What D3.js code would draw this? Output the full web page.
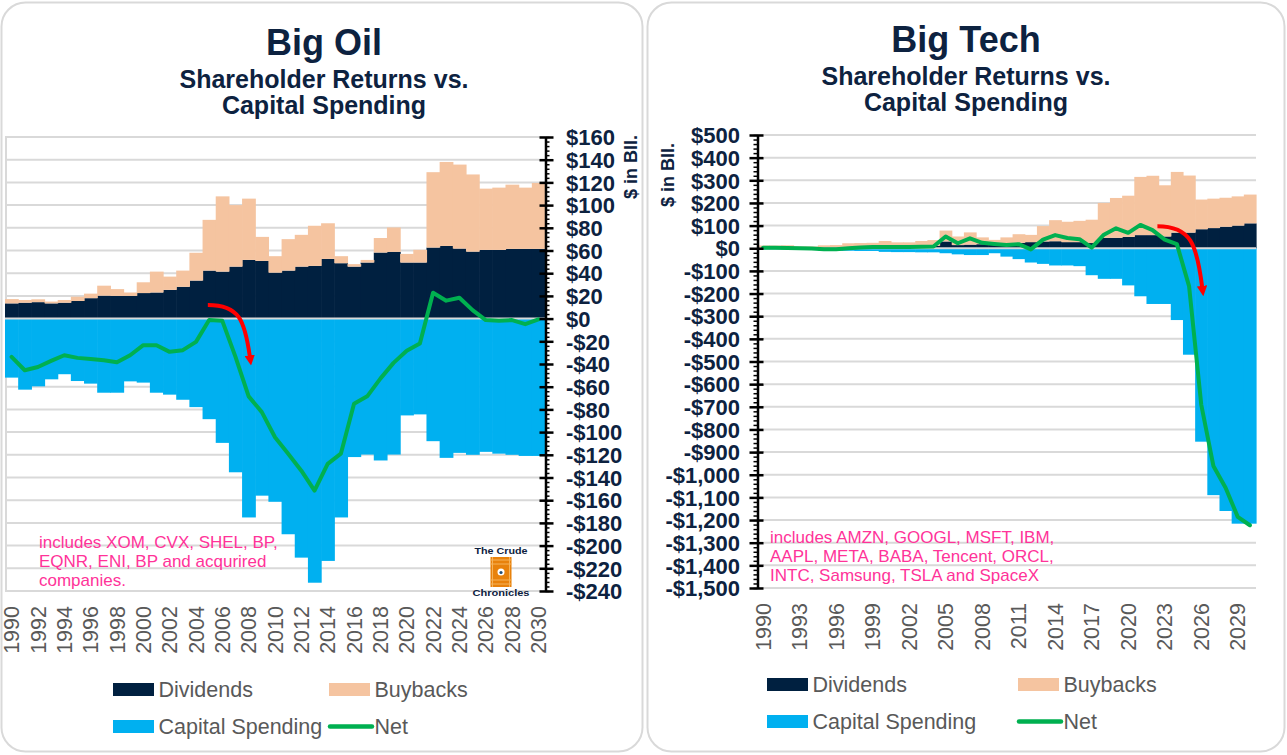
<!DOCTYPE html>
<html>
<head>
<meta charset="utf-8">
<script src="https://cdn.jsdelivr.net/npm/d3@7"></script>
<style>
body { margin: 0; background: #fff; }
text { font-family: "Liberation Sans", Arial, sans-serif; }
</style>
</head>
<body>
<script>
var years = d3.range(1990, 2031);

// Big Oil, $ bn
var oilDividends = [13.4,14,14.5,13.4,14,15.5,18,20.2,20,20,22.5,23,25.3,28,33.5,42.3,41.4,45.8,51.7,50.8,40.5,42.3,45.8,46.4,52.6,48.8,45.8,49.4,58.2,58.8,49.4,49.4,62.6,64,61.7,59,60.5,60.5,61.4,61.4,61.4];
var oilBuybacks = [3.8,2.4,2.5,1.6,2.4,3.8,4,8.8,6,3,9.5,18.4,11.7,14.3,24.5,44.7,66.3,54.2,54,21.2,14.5,27.7,28,35.4,31.4,6.2,2.2,2.3,12.8,21.5,7.6,11.2,66.4,74,74,68,54,54.9,56.6,54,58.1];
var oilCapex = [-52,-62.6,-59.7,-53.5,-49,-55,-57.3,-65.3,-65.3,-55.3,-56.4,-65.3,-67,-71.5,-78,-88.6,-109.5,-135.4,-175.2,-156,-161.4,-190,-210.6,-232.7,-213.5,-175.2,-122,-119.8,-125,-119.8,-85.3,-84.4,-108,-122.7,-118.3,-120,-117.4,-119,-120,-121,-121];
var oilNet = [-33.7,-45.5,-42.6,-37.3,-32.3,-34.6,-35.5,-36.7,-38.5,-32.3,-23.4,-23.4,-29.3,-27.8,-20.5,-1.3,-2,-33.7,-68.5,-82.4,-104.5,-119,-134,-151.6,-128,-119,-75,-68.5,-52.9,-39,-28.4,-22,22.8,15.8,18.4,7.5,-1.3,-2,-1.3,-4.9,-0.7];
var oilYTicks = [160,140,120,100,80,60,40,20,0,-20,-40,-60,-80,-100,-120,-140,-160,-180,-200,-220,-240];
var oilXLabels = [1990,1992,1994,1996,1998,2000,2002,2004,2006,2008,2010,2012,2014,2016,2018,2020,2022,2024,2026,2028,2030];

// Big Tech, $ bn
var techDividends = [3,3,4,4,4,5,5,6,6,7,8,8,9,10,11,30,14,16,18,18,22,24,27,30,31,27,27,23,46,46,50,58,58,52,69,69,84,89,95,100,110];
var techBuybacks = [9,9,9,4,4,8,9,16,17,17,24,18,17,22,25,48,38,54,30,19,26,38,32,68,93,90,94,103,154,176,182,257,262,226,268,252,131,130,128,129,127];
var techCapex = [-5,-5,-6,-6,-6,-10,-11,-11,-12,-12,-16,-17,-17,-18,-18,-22,-27,-30,-30,-22,-37,-48,-63,-69,-76,-76,-79,-119,-135,-135,-164,-212,-246,-246,-317,-470,-854,-1090,-1160,-1216,-1216];
var techNet = [2,2,1,0,-1,-4,-4,0,3,5,6,6,6,7,8,52,22,44,24,19,14,18,-5,38,58,45,40,3,60,88,68,103,80,38,18,-167,-690,-961,-1057,-1186,-1223];
var techYTicks = [500,400,300,200,100,0,-100,-200,-300,-400,-500,-600,-700,-800,-900,-1000,-1100,-1200,-1300,-1400,-1500];
var techXLabels = [1990,1993,1996,1999,2002,2005,2008,2011,2014,2017,2020,2023,2026,2029];

// red arrows: [start, tip] in (year, $bn)
var oilArrow = [[2005.4, 12], [2008.7, -42]];
var techArrow = [[2022.9, 97], [2026.7, -215]];

var oilNote = ["includes XOM, CVX, SHEL, BP,", "EQNR, ENI, BP and acqurired", "companies."];
var techNote = ["includes AMZN, GOOGL, MSFT, IBM,", "AAPL, META, BABA, Tencent, ORCL,", "INTC, Samsung, TSLA and SpaceX"];
var legendNames = ["Dividends", "Buybacks", "Capital Spending", "Net"];

var col = {div: "#002040", buy: "#f5c4a0", capex: "#00b0f0", net: "#00b050", arrow: "#ff0000",
  grid: "#d9d9d9", ink: "#0d2240", gray: "#595959", note: "#ff3399"};
var legendColors = [col.div, col.buy, col.capex, col.net];

var svg = d3.select("body").append("svg").attr("width", 1287).attr("height", 755);

var defs = svg.append("defs");
defs.append("marker").attr("id", "head").attr("viewBox", "0 0 10 10")
  .attr("refX", 1).attr("refY", 5).attr("markerWidth", 2.6).attr("markerHeight", 2.6)
  .attr("orient", "auto").attr("markerUnits", "strokeWidth")
  .append("path").attr("d", "M0,0 L10,5 L0,10 z").attr("fill", col.arrow);

// panels
svg.append("rect").attr("x", 1.5).attr("y", 2.5).attr("width", 641).attr("height", 749).attr("rx", 24)
  .attr("fill", "#fff").attr("stroke", col.grid).attr("stroke-width", 2);
svg.append("rect").attr("x", 647.5).attr("y", 2.5).attr("width", 637).attr("height", 749).attr("rx", 24)
  .attr("fill", "#fff").attr("stroke", col.grid).attr("stroke-width", 2);

function money(v) {
  return (v < 0 ? "-$" : "$") + d3.format(",")(Math.abs(v));
}

function drawChart(o) {
  var g = svg.append("g");
  var x = d3.scaleBand().domain(years).range(o.xr).padding(0);
  var xl = d3.scaleLinear().domain([1990, 2031]).range(o.xr);
  var y = d3.scaleLinear().domain(o.yd).range(o.yr);
  var bw = x.bandwidth();

  // titles
  g.append("text").attr("x", o.titleX).attr("y", o.titleY[0]).attr("text-anchor", "middle")
    .attr("font-size", 36).attr("font-weight", "bold").attr("fill", col.ink).text(o.title);
  g.append("text").attr("x", o.titleX).attr("y", o.titleY[1]).attr("text-anchor", "middle")
    .attr("font-size", 25).attr("font-weight", "bold").attr("fill", col.ink).text("Shareholder Returns vs.");
  g.append("text").attr("x", o.titleX).attr("y", o.titleY[2]).attr("text-anchor", "middle")
    .attr("font-size", 25).attr("font-weight", "bold").attr("fill", col.ink).text("Capital Spending");

  // gridlines
  g.selectAll(".grid").data(o.ticks).enter().append("line")
    .attr("x1", o.xr[0]).attr("x2", o.xr[1])
    .attr("y1", function(d) { return y(d); }).attr("y2", function(d) { return y(d); })
    .attr("stroke", col.grid).attr("stroke-width", 2);
  if (o.leftBorder) {
    g.append("line").attr("x1", o.xr[0] + 1).attr("x2", o.xr[0] + 1)
      .attr("y1", o.yr[1]).attr("y2", o.yr[0]).attr("stroke", col.grid).attr("stroke-width", 2);
  }

  // bars
  g.selectAll(".capex").data(o.capex).enter().append("rect")
    .attr("x", function(d, i) { return x(years[i]); }).attr("width", bw + 0.6)
    .attr("y", y(0)).attr("height", function(d) { return y(d) - y(0); })
    .attr("fill", col.capex);
  g.selectAll(".div").data(o.div).enter().append("rect")
    .attr("x", function(d, i) { return x(years[i]); }).attr("width", bw + 0.6)
    .attr("y", function(d) { return y(d); }).attr("height", function(d) { return y(0) - y(d); })
    .attr("fill", col.div);
  g.selectAll(".buy").data(o.buy).enter().append("rect")
    .attr("x", function(d, i) { return x(years[i]); }).attr("width", bw + 0.6)
    .attr("y", function(d, i) { return y(o.div[i] + d); })
    .attr("height", function(d, i) { return y(o.div[i]) - y(o.div[i] + d); })
    .attr("fill", col.buy);

  // zero line
  g.append("line").attr("x1", o.xr[0]).attr("x2", o.xr[1]).attr("y1", y(0)).attr("y2", y(0))
    .attr("stroke", col.grid).attr("stroke-width", 2);

  // net line
  var line = d3.line()
    .x(function(d, i) { return x(years[i]) + bw / 2; })
    .y(function(d) { return y(d); });
  g.append("path").datum(o.net).attr("d", line).attr("fill", "none")
    .attr("stroke", col.net).attr("stroke-width", 4).attr("stroke-linejoin", "round").attr("stroke-linecap", "round");

  // red arrow
  var p0 = [xl(o.arrow[0][0]), y(o.arrow[0][1])];
  var tip = [xl(o.arrow[1][0]), y(o.arrow[1][1])];
  var end = [tip[0] - 1.5, tip[1] - 10];
  var dx = end[0] - p0[0], dy = end[1] - p0[1];
  g.append("path")
    .attr("d", "M" + p0 + " C" + [p0[0] + 0.75 * dx, p0[1]] + " " + [end[0] - 0.12 * dx, p0[1] + 0.3 * dy] + " " + end)
    .attr("fill", "none").attr("stroke", col.arrow).attr("stroke-width", 4).attr("marker-end", "url(#head)");

  // y axis
  var minor = d3.range(o.yd[0], o.yd[1] + 0.001, o.minorStep);
  var mk = o.side === "right" ? d3.axisRight : d3.axisLeft;
  var ax = g.append("g").attr("transform", "translate(" + o.axisX + ",0)");
  ax.append("g").call(mk(y).tickValues(minor).tickSize(4).tickSizeOuter(0).tickFormat(""))
    .call(function(s) {
      s.select(".domain").remove();
      s.selectAll("line").attr("stroke", "#000").attr("stroke-width", 1.5);
    });
  ax.append("g").call(mk(y).tickValues(o.ticks).tickSize(8).tickSizeOuter(0).tickFormat(money))
    .call(function(s) {
      s.select(".domain").attr("stroke", "#000").attr("stroke-width", 2.5);
      s.selectAll(".tick line").attr("stroke", "#000").attr("stroke-width", 2.5)
        .attr("x1", o.side === "right" ? -6 : 6);
      s.selectAll(".tick text").attr("x", o.labelDX).attr("text-anchor", o.labelAnchor)
        .attr("font-family", "Liberation Sans, Arial, sans-serif")
        .attr("font-size", 22).attr("font-weight", "bold").attr("fill", col.ink).attr("dy", "0.35em");
    });

  // unit label
  g.append("text").attr("transform", "translate(" + o.unit[0] + "," + o.unit[1] + ") rotate(-90)")
    .attr("text-anchor", "middle").attr("dy", "0.35em")
    .attr("font-size", 18).attr("font-weight", "bold").attr("fill", col.ink).text("$ in Bll.");

  // x labels
  g.selectAll(".xlab").data(o.xLabels).enter().append("text")
    .attr("transform", function(d) { return "translate(" + (x(d) + bw / 2) + "," + o.xLabelY + ") rotate(-90)"; })
    .attr("text-anchor", "end").attr("dy", "0.36em")
    .attr("font-size", 21.5).attr("fill", col.gray).text(function(d) { return d; });

  // note
  g.selectAll(".note").data(o.note).enter().append("text")
    .attr("x", o.noteXY[0]).attr("y", function(d, i) { return o.noteXY[1] + i * 19; })
    .attr("font-size", 17).attr("fill", col.note).text(function(d) { return d; });

  // legend
  var lg = g.selectAll(".lg").data(legendNames).enter().append("g")
    .attr("transform", function(d, i) { return "translate(" + o.legCols[i % 2] + "," + o.legRows[Math.floor(i / 2)] + ")"; });
  lg.each(function(d, i) {
    var s = d3.select(this);
    if (i === 3) {
      s.append("line").attr("x1", 1).attr("x2", 43).attr("y1", 6.5).attr("y2", 6.5)
        .attr("stroke", legendColors[i]).attr("stroke-width", 4.5).attr("stroke-linecap", "round");
    } else {
      s.append("rect").attr("width", 41).attr("height", 13).attr("fill", legendColors[i]);
    }
    s.append("text").attr("x", 45.5).attr("y", 14).attr("font-size", 21.5).attr("fill", col.gray).text(d);
  });
  return {x: x, y: y};
}

drawChart({
  div: oilDividends, buy: oilBuybacks, capex: oilCapex, net: oilNet,
  ticks: oilYTicks, minorStep: 4, xLabels: oilXLabels,
  xr: [5, 545], yd: [-240, 160], yr: [591, 137],
  side: "right", axisX: 545.5, labelDX: 20.5, labelAnchor: "start",
  title: "Big Oil", titleX: 324, titleY: [55, 88, 114],
  unit: [631, 167], xLabelY: 606,
  note: oilNote, noteXY: [39, 548],
  legCols: [113, 329], legRows: [683, 720],
  arrow: oilArrow, leftBorder: true
});

drawChart({
  div: techDividends, buy: techBuybacks, capex: techCapex, net: techNet,
  ticks: techYTicks, minorStep: 20, xLabels: techXLabels,
  xr: [757, 1256], yd: [-1500, 500], yr: [588, 135],
  side: "left", axisX: 757.5, labelDX: -17.5, labelAnchor: "end",
  title: "Big Tech", titleX: 966, titleY: [52, 85, 111],
  unit: [668, 175], xLabelY: 603,
  note: techNote, noteXY: [770, 543],
  legCols: [767, 1018], legRows: [678, 715],
  arrow: techArrow, leftBorder: false
});

// logo
var logo = svg.append("g").attr("transform", "translate(501,0)");
logo.append("text").attr("x", 0).attr("y", 554).attr("text-anchor", "middle")
  .attr("font-family", "DejaVu Serif, serif").attr("font-weight", "bold").attr("font-size", 9.5)
  .attr("fill", col.ink).attr("textLength", 53).attr("lengthAdjust", "spacingAndGlyphs").text("The Crude");
logo.append("rect").attr("x", -10.5).attr("y", 557).attr("width", 21).attr("height", 30).attr("fill", "#e8820c");
[560, 564, 580, 584].forEach(function(v) {
  logo.append("line").attr("x1", -10.5).attr("x2", 10.5).attr("y1", v).attr("y2", v)
    .attr("stroke", "#f6b35a").attr("stroke-width", 1);
});
logo.append("line").attr("x1", -8.5).attr("x2", -8.5).attr("y1", 557).attr("y2", 587).attr("stroke", "#f6b35a").attr("stroke-width", 1);
logo.append("line").attr("x1", 8.5).attr("x2", 8.5).attr("y1", 557).attr("y2", 587).attr("stroke", "#f6b35a").attr("stroke-width", 1);
logo.append("circle").attr("cx", 0).attr("cy", 572).attr("r", 3.5).attr("fill", "#fff");
logo.append("circle").attr("cx", 0).attr("cy", 572.5).attr("r", 1.6).attr("fill", "#1f4e79");
logo.append("text").attr("x", 0).attr("y", 596).attr("text-anchor", "middle")
  .attr("font-family", "DejaVu Serif, serif").attr("font-weight", "bold").attr("font-size", 9.5)
  .attr("fill", col.ink).attr("textLength", 57).attr("lengthAdjust", "spacingAndGlyphs").text("Chronicles");
</script>
</body>
</html>
